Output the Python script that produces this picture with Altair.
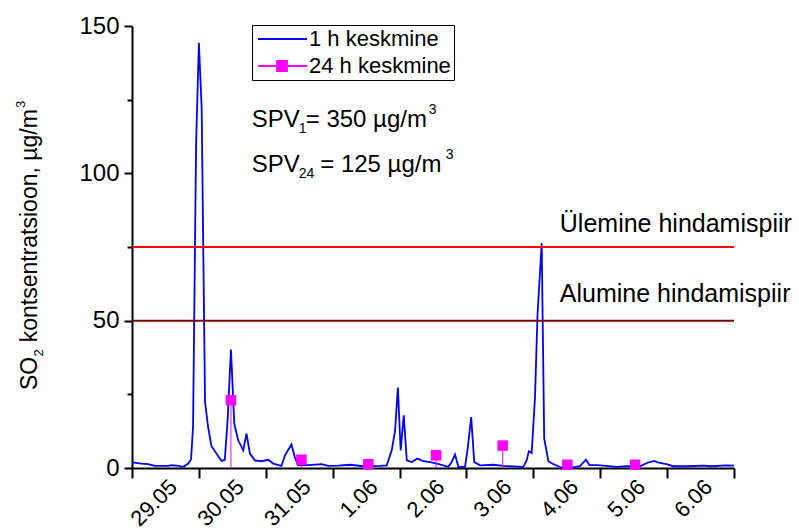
import altair as alt
import pandas as pd

FONT = "Liberation Sans, Arial, Helvetica, sans-serif"

# ---- 1 h means (hours since 29.05 00:00, µg/m3) ----
HOURS = [0, 0.8, 3.4, 5.8, 8.2, 13.0, 14.2, 16.6, 18.4, 20.2, 21.2, 21.9, 23.0, 24.0, 25.0,
         26.2, 27.3, 28.5, 30.3, 32.1, 33.3, 34.3, 35.5, 36.7, 38.1, 39.9, 41.1, 42.3, 44.1,
         46.5, 48.9, 50.7, 53.6, 54.9, 57.2, 58.4, 59.6, 63.2, 68.0, 70.4, 74.0, 78.3, 83.0,
         89.0, 91.4, 93.2, 94.4, 95.4, 96.4, 97.5, 98.6, 100.4, 102.4, 104.6, 107.0, 109.4,
         113.5, 114.7, 115.9, 117.1, 119.5, 120.5, 121.7, 122.8, 124.9, 129.7, 133.2, 140.4,
         141.6, 142.4, 143.4, 144.6, 145.5, 147.0, 147.9, 149.4, 151.2, 154.2, 158.3, 160.7,
         162.9, 164.1, 166.7, 169.1, 173.9, 177.5, 182.3, 184.7, 187.3, 189.4, 191.8, 194.2,
         199.0, 205.0, 208.0, 213.3, 216.0]
SO2_1H = [1.8, 1.8, 1.5, 1.3, 0.7, 0.7, 1.0, 0.7, 0.4, 1.5, 3.0, 14.0, 110.0, 144.2, 122.0,
          22.4, 14.0, 7.4, 4.9, 2.4, 2.8, 16.2, 40.2, 15.0, 9.4, 6.0, 11.7, 4.9, 2.6,
          2.3, 2.8, 1.5, 0.7, 4.3, 8.0, 3.7, 1.0, 1.0, 1.3, 0.7, 0.8, 1.1, 0.6,
          0.7, 0.9, 6.0, 12.8, 27.3, 6.0, 17.9, 2.6, 2.0, 3.2, 2.3, 2.0, 1.5,
          0.4, 2.0, 4.6, 0.4, 0.4, 7.1, 17.3, 2.0, 0.9, 1.1, 0.7, 0.4,
          2.6, 5.7, 5.1, 24.0, 52.0, 76.3, 10.0, 2.3, 1.3, 0.1, 0.2, 0.6,
          2.8, 1.0, 1.0, 0.8, 0.4, 0.6, 0.6, 1.7, 2.4, 1.7, 1.3, 0.6,
          0.6, 0.8, 0.6, 0.9, 0.8]

# ---- 24 h means ----
DAY_H = [35.5, 60.8, 84.8, 109.1, 133.0, 156.2, 180.5]
SO2_24H = [23.0, 2.8, 1.3, 4.3, 7.6, 1.1, 1.1]

DAY_TICKS = [0, 24, 48, 72, 96, 120, 144, 168, 192, 216]
DAY_LABELS = ["29.05", "30.05", "31.05", "1.06", "2.06", "3.06", "4.06", "5.06", "6.06"]
Y_MAJOR = [0, 50, 100, 150]
Y_MINOR = [25, 75, 125]

THRESH_VALUES = [75, 50]
THRESH_COLORS = ["#FF0000", "#800000"]
THRESH_NAMES = ["Ülemine hindamispiir", "Alumine hindamispiir"]
THRESH_LABEL_H = [153.5, 153.5]
THRESH_LABEL_V = [80.1, 56.3]

SERIES = ["1 h keskmine", "24 h keskmine"]
SERIES_COLORS = ["#0000FF", "#FF00FF"]
PATH_LINE = "M-1.6,0H8.2"
PATH_SQ = "M-1.6,0H8.2M2.2,-1H4.2V1H2.2Z"

SPV_H = 42.95
SPV1_V = 115.8
SPV24_V = 100.55

hourly = pd.DataFrame({"h": HOURS, "v": SO2_1H})
daily = pd.DataFrame({"h": DAY_H, "v": SO2_24H})
thresh = pd.DataFrame({"v": THRESH_VALUES, "c": THRESH_COLORS, "name": THRESH_NAMES,
                       "lh": THRESH_LABEL_H, "lv": THRESH_LABEL_V})

xs = alt.Scale(domain=[0, 216], nice=False, zero=False)
ys = alt.Scale(domain=[0, 150], nice=False, zero=True)

label_list = "[" + ",".join("'%s'" % d for d in DAY_LABELS) + "]"
x_axis = alt.Axis(values=DAY_TICKS, title=None, grid=False,
                  labelExpr=f"datum.value < 216 ? {label_list}[round(datum.value / 24)] : ''",
                  labelAngle=315, labelAlign="right", labelBaseline="middle",
                  labelOffset=41, labelPadding=5, labelFlush=False, labelOverlap=False,
                  labelBound=False, labelFont=FONT, labelFontSize=22, labelColor="black",
                  tickSize=10, tickWidth=2, tickColor="black", domainWidth=2, domainColor="black")
y_axis = alt.Axis(values=Y_MAJOR, title=None, grid=False, labelFont=FONT, labelFontSize=24,
                  labelColor="black", labelPadding=5, tickSize=8, tickWidth=2,
                  tickColor="black", domainWidth=2, domainColor="black")
y_minor = alt.Axis(values=Y_MINOR, title=None, grid=False, labels=False, domain=False,
                   tickSize=5, tickWidth=2, tickColor="black", orient="left")

# main line carries the axes; other layers share scales without axis specs
line = alt.Chart(hourly).mark_line(color="#0000FF", strokeWidth=1.8).encode(
    x=alt.X("h:Q", scale=xs, axis=x_axis),
    y=alt.Y("v:Q", scale=ys, axis=y_axis))

rules = alt.Chart(thresh).mark_rule(strokeWidth=2).encode(
    y=alt.Y("v:Q", scale=ys),
    color=alt.Color("c:N", scale=None))

stems = alt.Chart(daily).mark_rule(color="#FF00FF", strokeWidth=1).encode(
    x=alt.X("h:Q", scale=xs),
    y=alt.Y("v:Q", scale=ys),
    y2=alt.datum(0))

markers = alt.Chart(daily).mark_point(shape="square", filled=True, size=110,
                                      color="#FF00FF", opacity=1).encode(
    x=alt.X("h:Q", scale=xs),
    y=alt.Y("v:Q", scale=ys))

thresh_labels = alt.Chart(thresh).mark_text(align="left", baseline="alphabetic", font=FONT,
                                            fontSize=25, color="black").encode(
    x=alt.X("lh:Q", scale=xs),
    y=alt.Y("lv:Q", scale=ys),
    text="name:N")


def ann(text, h, v, size, dx=0, dy=0):
    df = pd.DataFrame({"ah": [h], "av": [v], "t": [text]})
    return alt.Chart(df).mark_text(align="left", baseline="alphabetic", font=FONT,
                                   fontSize=size, color="black", dx=dx, dy=dy).encode(
        x=alt.X("ah:Q", scale=xs),
        y=alt.Y("av:Q", scale=ys),
        text="t:N")


def ytitle(text, size, dx, dy=0):
    df = pd.DataFrame({"t": [text]})
    return alt.Chart(df).mark_text(align="left", baseline="alphabetic", angle=270, font=FONT,
                                   fontSize=size, color="black", dx=dx, dy=dy).encode(
        x=alt.value(-95.5), y=alt.value(364), text="t:N")


spv = [
    ann("SPV", SPV_H, SPV1_V, 24),
    ann("1", SPV_H, SPV1_V, 14, dx=47, dy=6),
    ann("= 350 µg/m", SPV_H, SPV1_V, 24, dx=54),
    ann("3", SPV_H, SPV1_V, 14, dx=177, dy=-13),
    ann("SPV", SPV_H, SPV24_V, 24),
    ann("24", SPV_H, SPV24_V, 14, dx=47, dy=6),
    ann("= 125 µg/m", SPV_H, SPV24_V, 24, dx=68.5),
    ann("3", SPV_H, SPV24_V, 14, dx=194, dy=-13),
]

ytit = [
    ytitle("SO", 23, 0),
    ytitle("2", 13, 33.5, 6),
    ytitle("kontsentratsioon, µg/m", 23, 47.7),
    ytitle("3", 13, 282, -12),
]

legend_def = alt.Legend(title=None, orient="none", legendX=120, legendY=-1, direction="vertical",
                        strokeColor="black", padding=3, rowPadding=5, labelFont=FONT,
                        labelFontSize=22, labelColor="black", labelOffset=32, symbolSize=100,
                        symbolStrokeWidth=1.8, symbolOpacity=1)

carrier = alt.Chart(pd.DataFrame({"series": SERIES})).mark_point(
    filled=False, fill="#FF00FF", strokeWidth=1.8, size=100).encode(
    x=alt.value(-3000), y=alt.value(-3000),
    stroke=alt.Stroke("series:N", scale=alt.Scale(domain=SERIES, range=SERIES_COLORS),
                      legend=legend_def),
    shape=alt.Shape("series:N", scale=alt.Scale(domain=SERIES, range=[PATH_LINE, PATH_SQ]),
                    legend=legend_def))

inner = alt.layer(line, rules, stems, markers, thresh_labels, *spv, *ytit, carrier)

minor = alt.Chart(pd.DataFrame({"mv": Y_MINOR})).mark_point(opacity=0).encode(
    y=alt.Y("mv:Q", scale=ys, axis=y_minor))

chart = alt.layer(inner, minor).resolve_axis(y="independent").properties(
    width=602, height=442,
    padding={"left": 132, "top": 26, "right": 65, "bottom": 63},
    autosize=alt.AutoSizeParams(type="none"),
    background="white",
).configure_view(stroke=None)

chart.save("out.html", embed_options={"renderer": "svg", "actions": False})
